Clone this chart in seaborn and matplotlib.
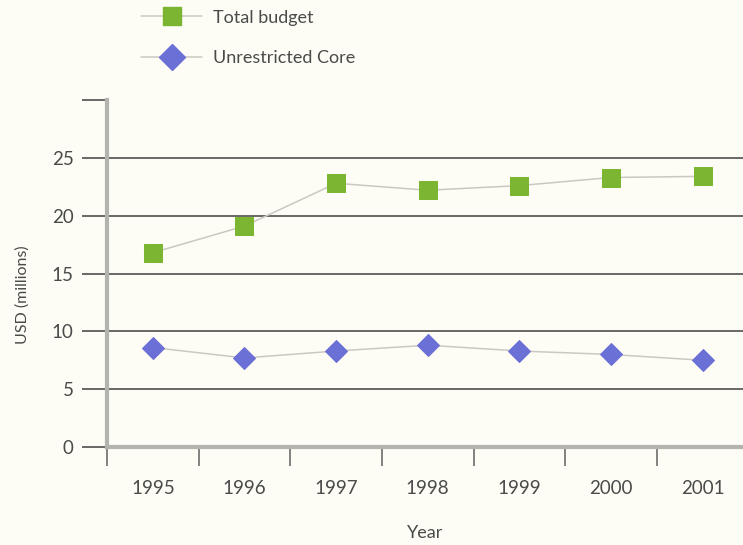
import matplotlib
matplotlib.use("Agg")
import matplotlib.pyplot as plt
from matplotlib.ticker import FixedLocator
from matplotlib.lines import Line2D
import pandas as pd
import seaborn as sns

years = [1995, 1996, 1997, 1998, 1999, 2000, 2001]
total_budget = [16.8, 19.1, 22.8, 22.2, 22.6, 23.3, 23.4]
unrestricted_core = [8.6, 7.7, 8.3, 8.8, 8.3, 8.0, 7.5]
series_names = ["Total budget", "Unrestricted Core"]
y_ticks = [0, 5, 10, 15, 20, 25, 30]
y_tick_labels = ["0", "5", "10", "15", "20", "25", ""]

bg = "#fdfdf5"
green = "#7cb531"
blue = "#6a70d6"
line_grey = "#c9c9c2"
text_col = "#4a4a4a"

sns.set_theme(style="white")
plt.rcParams["font.family"] = ["Lato", "DejaVu Sans"]

df = pd.DataFrame({
    "Year": years * 2,
    "Value": total_budget + unrestricted_core,
    "Series": [series_names[0]] * len(years) + [series_names[1]] * len(years),
})

fig = plt.figure(figsize=(7.43, 5.45), dpi=100, facecolor=bg)
ax = fig.add_axes([0.144, 0.1798, 0.856, 0.6367])
ax.set_facecolor(bg)

# gridlines behind the series
for v in y_ticks[1:-1]:
    ax.axhline(v, color="#5c5c5c", lw=1.3, zorder=0)

sq_size, dm_size = 12.5, 11.2
sns.lineplot(
    data=df, x="Year", y="Value", hue="Series", style="Series",
    palette={series_names[0]: green, series_names[1]: blue},
    markers={series_names[0]: "s", series_names[1]: "D"},
    dashes=False, ax=ax, legend=False, zorder=3,
)
for line in ax.lines:
    if line.get_marker() in ("s", "D"):
        c = line.get_color()
        line.set_color(line_grey)
        line.set_linewidth(1.1)
        line.set_markerfacecolor(c)
        line.set_markeredgecolor(c)
        line.set_markersize(sq_size if line.get_marker() == "s" else dm_size)

ax.set_xlim(1994.5, 2001.44)
ax.set_ylim(0, 30)

# x: labels at each year, tick marks between years
ax.set_xticks(years)
ax.set_xticklabels([str(y) for y in years])
ax.xaxis.set_minor_locator(FixedLocator([y - 0.5 for y in years]))
ax.tick_params(axis="x", which="major", length=0, pad=24, labelsize=13.5, labelcolor=text_col)
ax.tick_params(axis="x", which="minor", length=14, width=1.3, color="#777777", direction="out", bottom=True)

ax.set_yticks(y_ticks)
ax.set_yticklabels(y_tick_labels)
ax.tick_params(axis="y", which="major", length=18, width=1.3, color="#5c5c5c", direction="out",
               pad=6, labelsize=13.5, labelcolor=text_col, left=True)

for s in ["top", "right"]:
    ax.spines[s].set_visible(False)
for s in ["left", "bottom"]:
    ax.spines[s].set_color("#b4b4ae")
    ax.spines[s].set_linewidth(3)
    ax.spines[s].set_zorder(2)

ax.set_xlabel("Year", fontsize=13, color=text_col, labelpad=20)
ax.set_ylabel("USD (millions)", fontsize=11.5, color=text_col)
ax.yaxis.set_label_coords(-0.122, 0.44)

# legend above the plot
handles = [
    Line2D([], [], color=line_grey, lw=1.1, marker="s", markersize=12.5,
           markerfacecolor=green, markeredgecolor=green),
    Line2D([], [], color=line_grey, lw=1.1, marker="D", markersize=13,
           markerfacecolor=blue, markeredgecolor=blue),
]
fig.legend(handles, series_names, loc="upper left", bbox_to_anchor=(0.168, 1.012),
           frameon=False, fontsize=13, handlelength=3.4, handletextpad=0.6,
           labelspacing=1.35, labelcolor=text_col)

fig.savefig("out.png", dpi=100, facecolor=bg)
